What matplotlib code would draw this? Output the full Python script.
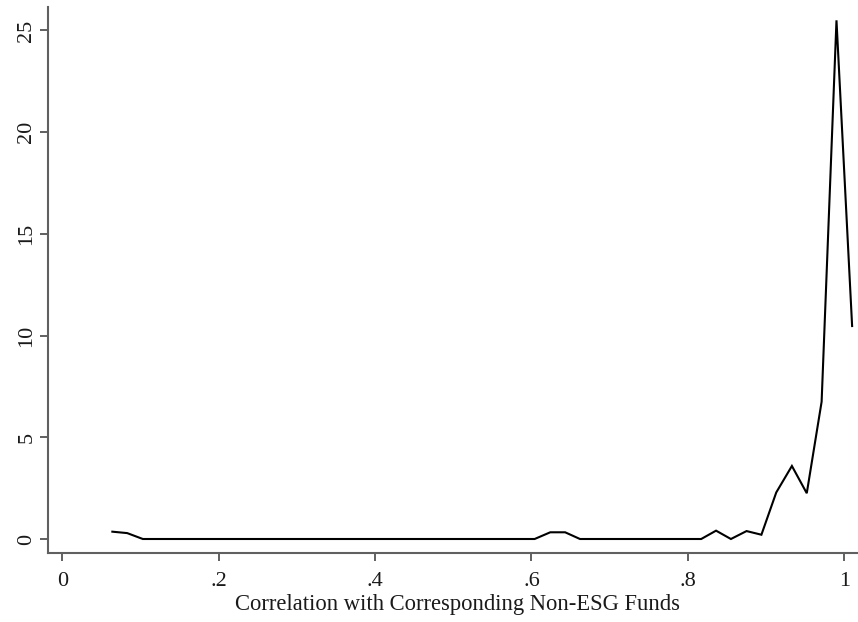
import matplotlib
matplotlib.use("Agg")
import matplotlib.pyplot as plt

x_values = [0.064, 0.083, 0.103, 0.122, 0.141, 0.161, 0.180, 0.199, 0.218, 0.238,
            0.257, 0.276, 0.296, 0.315, 0.334, 0.354, 0.373, 0.392, 0.411, 0.431,
            0.450, 0.469, 0.489, 0.508, 0.527, 0.547, 0.566, 0.585, 0.604, 0.624,
            0.643, 0.662, 0.682, 0.701, 0.720, 0.740, 0.759, 0.778, 0.797, 0.817,
            0.836, 0.855, 0.875, 0.894, 0.913, 0.933, 0.952, 0.971, 0.990, 1.010]
density = [0.36, 0.29, 0, 0, 0, 0, 0, 0, 0, 0,
           0, 0, 0, 0, 0, 0, 0, 0, 0, 0,
           0, 0, 0, 0, 0, 0, 0, 0, 0, 0.33,
           0.33, 0, 0, 0, 0, 0, 0, 0, 0, 0,
           0.41, 0, 0.39, 0.21, 2.29, 3.59, 2.25, 6.75, 25.5, 10.47]

x_ticks = [0, 0.2, 0.4, 0.6, 0.8, 1.0]
x_tick_labels = ["0", ".2", ".4", ".6", ".8", "1"]
y_ticks = [0, 5, 10, 15, 20, 25]
y_tick_labels = ["0", "5", "10", "15", "20", "25"]
x_label = "Correlation with Corresponding Non-ESG Funds"

plt.rcParams['font.family'] = ['Liberation Serif', 'DejaVu Serif']

W, H = 858, 622
fig = plt.figure(figsize=(W / 100, H / 100), dpi=100)
left, right, top, bottom = 48, 858, 7, 553
ax = fig.add_axes([left / W, 1 - bottom / H, (right - left) / W, (bottom - top) / H])

ax.plot(x_values, density, color='black', linewidth=1.5, solid_joinstyle='miter')

ax.set_xlim((48 - 62.3) / 782, (858 - 62.3) / 782)
ax.set_ylim((539 - 553) / 20.34, (539 - 7) / 20.34)

ax.set_xticks(x_ticks)
ax.set_xticklabels(x_tick_labels)
ax.set_yticks(y_ticks)
ax.set_yticklabels(y_tick_labels, rotation=90, va='center')

spine_color = '#606060'
for s in ['top', 'right']:
    ax.spines[s].set_visible(False)
for s in ['left', 'bottom']:
    ax.spines[s].set_color(spine_color)
    ax.spines[s].set_linewidth(1.5)

ax.tick_params(axis='both', direction='out', length=6, width=1.4, color=spine_color,
               labelsize=16, labelcolor='#1a1a1a')
ax.tick_params(axis='x', pad=8)
ax.tick_params(axis='y', pad=2.5)
ax.set_xlabel(x_label, fontsize=16.3, color='#1a1a1a', labelpad=2, x=0.505)

fig.savefig("out.png", dpi=100)
